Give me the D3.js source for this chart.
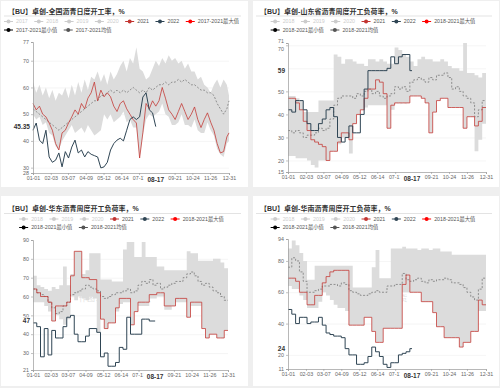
<!DOCTYPE html>
<html>
<head>
<meta charset="utf-8">
<script src="https://cdn.jsdelivr.net/npm/d3@7"></script>
<style>
  body { margin: 0; background: #efefef; }
  svg { display: block; font-family: "Liberation Sans", Arial, "Noto Sans CJK SC", sans-serif; }
</style>
</head>
<body>
<div class="chart"></div>
<script>
// x axis labels (category dates) and the current date
var xLabels = ["01-01", "02-03", "03-07", "04-09", "05-12", "06-14", "07-17", "09-21", "10-24", "11-26", "12-31"];
var nowDate = "08-17";

// national daily rate, one value every 6 days (last one is 12-31)
var natMax = [62,58,61,57,60,56,59,55,58,57, 60,56,61,57,62,58,63,59,64,63, 66,62,65,61,66,63,65,68,70,66, 71,69,75,67,66,63,64,67,70,68, 71,69,72,70,71,69,70,67,69,66, 66,63,64,61,60,58,61,63,60,63, 61,57];
var natMin = [50,48,49,46,47,43,42,38,36.6,40, 42,44,46,43,44,45,43,46,44,42, 43,44,50,48,50,47,48,49,51,47, 48,45,45,33.6,42,48,50,49,50,51, 54,50,49,46,46,47,50,46,46,45, 48,44,43,43,47,44,42,37,35,34, 39,40];
var natAvg = [52,51,50,49,48,47,46,45,44,45, 46,47,48,49,50,51,52,53,54,55, 55,57,57,58,59,58,59,58,59,58, 59,60,59,58,59,58,60,59,60,61, 61,62,61,62,62,63,62,63,62,61, 61,60,59,59,58,58,57,54,52,50, 52,55];
var nat2021 = [54,51.6,53,50,49,46.7,44,39,36.6,43, 44,46.7,49,51.6,50,54,52,56,58,62, 55,59,56.5,58,56.5,53,51,54,55,52, 50,48,46.7,33.6,43,54,52,55,53,55, 60,56,51.6,50,48,51,54,51,48,50, 52.7,48,45,48,50.5,47,44,39,35.5,36, 41.5,43];
var nat2022 = [44,46.7,40.3,39,44,34,32,32.8,35.5,30.3, 36,33.6,37.7,40.3,35.5,36.6,34,36,35,34.5, 34,29.9,30.3,32,36.6,39,40.3,41,40,44, 48,49,48,49,56.4,58,51.6,50.5,45.35];

// Shandong weekly load rate
var sdMax = [48,48,47,46,41,41,41,41,46,46, 46,46,66,65,62,64,64,63,62,62, 61,64,64,63,64,63,62,62,69,68, 66,65,63,61,64,65,64,64,63,63, 64,63,61,60,60,59,71,58,58,57, 56,58];
var sdMin = [22,22,21,21,21,20,18,17,20,20, 20,24,24,27,30,30,23,36,40,42, 43,44,44,44,44,44,34,42,45,45, 45,45,48,48,48,47,45,32,41,46, 47,47,43,43,43,43,34,39,39,24, 29,36];
var sdAvg = [33,32,33,32,30,31,31,32,34,33, 34,38,44,47,48,48,48,47,49,48, 50,51,49,50,48,47,48,49,52,51, 52,50,54,55,56,55,54,56,55,57, 57,58,56,51,52,50,48,47,45,39, 42,46];
var sd2021 = [47,47,45,42,37,33,29,28,27,26, 20,24,24,28,32,32,29,36,40,42, 47,51,51,55,54,49,34,44,45,45, 45,45,48,48,48,47,45,32,41,46, 47,47,43,43,43,43,34,39,39,35, 37,43];
var sd2022 = [42,41,46,46,42,36,33,33,36,38, 42,43,39,30,28,30,35,32,32,40, 51,59,59,59,59,59,60,65,62,65, 66,66,59];

// East China weekly load rate
var ecMax = [71,66,65,64,63,65,64,66,76,66, 72,84,84,72,74,83,83,83,69,69, 69,68,68,68,85,89,89,81,81,89, 81,81,81,76,76,74,74,74,74,74, 74,84,83,83,79,79,79,79,80,80, 78,75];
var ecMin = [57,57,57,55,52,47,50,48,45,48, 60,58,60,59,58,60,59,41,48,43, 46,46,52,56,57,57,45,52,55,55, 55,59,59,60,60,53,53,55,57,57, 57,49,55,55,55,43,38,40,40,38, 38,42];
var ecAvg = [64,62,61,60,57,54,51,52,55,57, 61,62,63,64,66,65,64,63,60,59, 60,61,62,62,63,64,62,63,66,68, 67,69,66,67,64,65,66,67,68,68, 70,72,73,71,68,66,67,65,63,62, 60,58];
var ec2021 = [64,62,60,60,57,47,55,55,55,57, 71,84,84,70,70,69,69,62,48,43, 46,46,54,59,59,59,45,52,57,57, 57,61,61,62,62,55,55,55,59,59, 59,49,57,57,57,43,38,40,40,38, 38,42];
var ec2022 = [46,44,28,43,29,42,38,38,44,49, 50,40,36,36,39,43,43,41,28,30, 23,23,25,33,32,49,40,40,40,48, 48,47,47];

// South China weekly load rate
var scMax = [88,93,90,85,80,68,68,77,77,77, 77,77,77,77,77,77,77,63,63,63, 63,63,76,87,69,69,69,88,88,88, 89,88,88,88,87,88,88,87,88,88, 86,86,86,84,84,84,84,84,84,84, 84,84];
var scMin = [64,62,62,58,55,50,50,50,54,60, 58,55,52,50,50,48,39,39,39,39, 44,44,35,28,28,37,37,37,37,37, 60,60,60,60,60,54,54,54,47,38, 38,31,31,31,31,25,28,28,35,35, 48,48];
var scAvg = [76,82,80,73,67,60,60,61,62,64, 64,65,65,64,66,65,61,60,59,58, 58,59,60,61,60,60,64,64,65,65, 72,68,67,68,69,67,66,68,67,68, 68,69,68,66,66,65,63,60,57,55, 62,69];
var sc2021 = [69,69,67,60,60,52,52,58,58,66, 70,73,74,74,74,74,39,39,39,39, 44,44,35,28,28,37,37,37,37,37, 65,71,60,60,60,54,54,54,47,38, 38,31,31,31,31,25,28,28,35,35, 55,52];
var sc2022 = [49,46,40,44,44,40,41,41,44,39, 34,33,32,32,31,24,20,20,14,14, 15,19,25,22,19,14,12,15,15,20, 21,22,24];

var colors = { y2021: "#c23531", y2022: "#2f4554", max: "#ff0000", min: "#000000", avg: "#555555", off: "#cccccc" };

var panels = [
  { title: "【BU】卓创-全国沥青日度开工率，%", years: ["2017", "2018", "2019", "2020"], span: "2017-2021",
    box: [1, 1, 247, 186], oy: 0, xr: [33, 229], yd: [28, 77], yr: [173, 42], ticks: [30, 40, 50, 60, 70],
    daily: true, max: natMax, min: natMin, avg: natAvg, s21: nat2021, s22: nat2022, last: "45.35" },
  { title: "【BU】卓创-山东省沥青周度开工负荷率，%", years: ["2018", "2019", "2020"], span: "2018-2021",
    box: [253, 1, 246, 186], oy: 0, xr: [288, 486], yd: [15, 71], yr: [172, 43], ticks: [20, 30, 40, 50, 60, 70],
    daily: false, max: sdMax, min: sdMin, avg: sdAvg, s21: sd2021, s22: sd2022, last: "59" },
  { title: "【BU】卓创-华东沥青周度开工负荷率，%", years: ["2018", "2019", "2020"], span: "2018-2021",
    box: [1, 196, 247, 190], oy: 197.5, xr: [33, 228], yd: [21, 90], yr: [370, 240], ticks: [30, 40, 50, 60, 70, 80],
    daily: false, max: ecMax, min: ecMin, avg: ecAvg, s21: ec2021, s22: ec2022, last: "47" },
  { title: "【BU】卓创-华南沥青周度开工负荷率，%", years: ["2018", "2019", "2020"], span: "2018-2021",
    box: [253, 196, 246, 190], oy: 197.5, xr: [288, 486], yd: [11, 94], yr: [369, 239], ticks: [20, 40, 60, 80],
    daily: false, max: scMax, min: scMin, avg: scAvg, s21: sc2021, s22: sc2022, last: "24" }
];

var base = new Date(2022, 0, 1);
function dayOf(s) {
  var p = s.split("-");
  return d3.timeDay.count(base, new Date(2022, +p[0] - 1, +p[1]));
}
var dailyDays = d3.range(0, 361, 6).concat([364]);
var weeklyDays = d3.range(0, 364, 7);
var nowDay = dayOf(nowDate);

var svg = d3.select(".chart").append("svg")
  .attr("width", 500)
  .attr("height", 388);

svg.append("rect").attr("width", 500).attr("height", 388).attr("fill", "#efefef");

panels.forEach(drawPanel);

function pts(vals, days, endDay) {
  var out = vals.map(function(v, i) { return [days[i], v]; });
  if (endDay != null && out[out.length - 1][0] < endDay) out.push([endDay, vals[vals.length - 1]]);
  return out;
}

function drawPanel(p) {
  var b = p.box, oy = p.oy;
  var g = svg.append("g");
  var cx = b[0] + b[2] / 2;

  g.append("rect")
    .attr("x", b[0]).attr("y", b[1]).attr("width", b[2]).attr("height", b[3])
    .attr("fill", "#fff");

  // title + rule
  g.append("text")
    .attr("x", b[0] + 7).attr("y", oy + 13.5)
    .style("font-size", "7px").style("font-weight", "bold")
    .attr("fill", "#333")
    .text(p.title);
  g.append("line")
    .attr("x1", b[0] + 3).attr("x2", b[0] + b[2] - 7)
    .attr("y1", oy + 16).attr("y2", oy + 16)
    .attr("stroke", "#dcdcdc").attr("stroke-width", 0.8);

  drawLegend(g, p, cx - 3, oy);

  var x = d3.scaleLinear().domain([0, 364]).range(p.xr);
  var y = d3.scaleLinear().domain(p.yd).range(p.yr);
  var days = p.daily ? dailyDays : weeklyDays;
  var endAll = p.daily ? null : 364;
  var curve = p.daily ? d3.curveLinear : d3.curveStepAfter;

  // grid lines
  g.append("g")
    .attr("transform", "translate(" + p.xr[0] + ",0)")
    .call(d3.axisLeft(y).tickValues(p.ticks).tickSize(-(p.xr[1] - p.xr[0])).tickFormat(""))
    .call(function(a) {
      a.select(".domain").remove();
      a.selectAll("line").attr("stroke", "#eeeeee").attr("stroke-width", 0.6);
    });

  // watermark
  g.append("text")
    .attr("x", p.xr[0] + (p.xr[1] - p.xr[0]) * 0.42).attr("y", oy + 103)
    .attr("text-anchor", "middle")
    .style("font-size", "8px")
    .attr("fill", "#999").attr("opacity", 0.3)
    .text("作图：紫金天风期货");

  // min-max band
  var band = p.max.map(function(v, i) { return { d: days[i], hi: v, lo: p.min[i] }; });
  if (endAll != null) band.push({ d: endAll, hi: p.max[p.max.length - 1], lo: p.min[p.min.length - 1] });
  var area = d3.area()
    .x(function(d) { return x(d.d); })
    .y0(function(d) { return y(d.lo); })
    .y1(function(d) { return y(d.hi); })
    .curve(curve);
  g.append("path").attr("d", area(band)).attr("fill", "#dcdcdc");

  var line = d3.line()
    .x(function(d) { return x(d[0]); })
    .y(function(d) { return y(d[1]); })
    .curve(curve);

  // average
  g.append("path")
    .attr("d", line(pts(p.avg, days, endAll)))
    .attr("fill", "none")
    .attr("stroke", "#7a7a7a")
    .attr("stroke-width", 0.8)
    .attr("stroke-dasharray", "2,1.6");

  // 2021
  g.append("path")
    .attr("d", line(pts(p.s21, days, endAll)))
    .attr("fill", "none")
    .attr("stroke", colors.y2021)
    .attr("stroke-opacity", 0.85)
    .attr("stroke-width", 0.9);

  // 2022
  g.append("path")
    .attr("d", line(pts(p.s22, days, p.daily ? null : nowDay)))
    .attr("fill", "none")
    .attr("stroke", colors.y2022)
    .attr("stroke-width", 1);

  // y axis; tick labels hidden under the latest-value label are dropped
  var lastY = y(+p.last);
  var yTicks = p.ticks.filter(function(t) { return Math.abs(y(t) - lastY) > 5; }).concat(p.yd);
  g.append("g")
    .attr("transform", "translate(" + p.xr[0] + ",0)")
    .call(d3.axisLeft(y).tickValues(yTicks).tickSize(2).tickPadding(2))
    .call(function(a) {
      a.select(".domain").attr("stroke", "#999").attr("stroke-width", 0.7);
      a.selectAll("line").attr("stroke", "#999").attr("stroke-width", 0.6);
      a.selectAll("text").style("font-size", "5.3px").attr("fill", "#666").attr("font-family", null);
      // push apart the max label and a tick label that sits right under it
      var top = p.yd[1];
      var near = p.ticks.filter(function(t) { return Math.abs(y(t) - y(top)) < 6.5; });
      if (near.length) {
        var gap = Math.abs(y(near[0]) - y(top));
        a.selectAll(".tick").filter(function(d) { return d === top; })
          .select("text").attr("dy", "-0.05em");
        a.selectAll(".tick").filter(function(d) { return d === near[0]; })
          .select("text").attr("transform", "translate(0," + (6.8 - gap - 0.8) + ")");
      }
    });

  // x axis
  var xDays = xLabels.map(dayOf);
  g.append("g")
    .attr("transform", "translate(0," + p.yr[0] + ")")
    .call(d3.axisBottom(x).tickValues(xDays).tickSize(2).tickPadding(1.5)
      .tickFormat(function(d, i) { return xLabels[i]; }))
    .call(function(a) {
      a.select(".domain").attr("stroke", "#999").attr("stroke-width", 0.7);
      a.selectAll("line").attr("stroke", "#999").attr("stroke-width", 0.6);
      a.selectAll("text").style("font-size", "5.3px").attr("fill", "#666").attr("font-family", null);
    });

  // current date label on the x axis
  var nx = x(nowDay), ny = p.yr[0] + 7.5;
  g.append("rect")
    .attr("x", nx - 12).attr("y", ny - 5.5).attr("width", 24).attr("height", 8)
    .attr("fill", "#fff");
  g.append("text")
    .attr("x", nx).attr("y", ny + 1)
    .attr("text-anchor", "middle")
    .style("font-size", "6.5px").style("font-weight", "bold")
    .attr("fill", "#333")
    .text(nowDate);

  // latest 2022 value on the y axis
  var lt = g.append("text")
    .attr("x", p.xr[0] - 3).attr("y", lastY + 2.2)
    .attr("text-anchor", "end")
    .style("font-size", "6.5px").style("font-weight", "bold")
    .attr("fill", "#333")
    .text(p.last);
  var lw = lt.node().getComputedTextLength();
  g.insert("rect", function() { return lt.node(); })
    .attr("x", p.xr[0] - 4 - lw).attr("y", lastY - 3.5).attr("width", lw + 2).attr("height", 7)
    .attr("fill", "#fff");
}

function drawLegend(g, p, cx, oy) {
  var items = p.years.map(function(yr) { return { name: yr, color: colors.off, off: true }; })
    .concat([
      { name: "2021", color: colors.y2021 },
      { name: "2022", color: colors.y2022 },
      { name: p.span + "最大值", color: colors.max },
      { name: p.span + "最小值", color: colors.min, br: true },
      { name: p.span + "均值", color: colors.avg }
    ]);
  var lg = g.append("g");
  var rows = [[], []], row = 0, xPos = 0, widths = [0, 0];
  items.forEach(function(it) {
    if (it.br) { row = 1; xPos = 0; }
    var ig = lg.append("g");
    ig.append("line")
      .attr("x1", 0).attr("x2", 9).attr("y1", 0).attr("y2", 0)
      .attr("stroke", it.color).attr("stroke-width", 1);
    ig.append("circle")
      .attr("cx", 4.5).attr("cy", 0).attr("r", 2)
      .attr("fill", it.color);
    var t = ig.append("text")
      .attr("x", 12).attr("y", 1.9)
      .style("font-size", "5.3px")
      .attr("fill", it.off ? "#ccc" : "#555")
      .text(it.name);
    var w = 12 + t.node().getComputedTextLength();
    rows[row].push({ g: ig, x: xPos });
    xPos += w + 6.5;
    widths[row] = xPos - 6.5;
  });
  var left = cx - d3.max(widths) / 2;
  var rowY = [oy + 21.5, oy + 30];
  rows.forEach(function(r, ri) {
    r.forEach(function(it) {
      it.g.attr("transform", "translate(" + (left + it.x) + "," + rowY[ri] + ")");
    });
  });
}
</script>
</body>
</html>
